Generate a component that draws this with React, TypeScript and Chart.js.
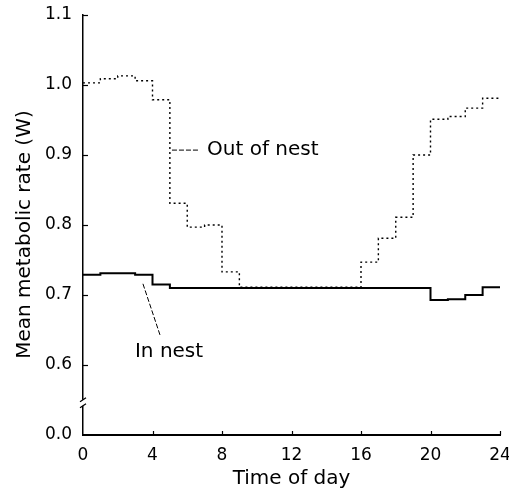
import React, { useEffect, useRef } from 'react';
import { Chart, registerables } from 'chart.js';

Chart.register(...registerables);

// Hour boundaries (time of day)
const hours = [0, 1, 2, 3, 4, 5, 6, 7, 8, 9, 10, 11, 12, 13, 14, 15, 16, 17, 18, 19, 20, 21, 22, 23, 24];

// Mean metabolic rate (W) for each hour 0..23
const outOfNestRate = [
  1.003, 1.009, 1.013, 1.006, 0.979, 0.831, 0.797, 0.8, 0.733, 0.711, 0.711, 0.711,
  0.711, 0.711, 0.711, 0.711, 0.747, 0.781, 0.811, 0.9, 0.951, 0.955, 0.967, 0.981,
];
const inNestRate = [
  0.729, 0.731, 0.731, 0.729, 0.715, 0.71, 0.71, 0.71, 0.71, 0.71, 0.71, 0.71,
  0.71, 0.71, 0.71, 0.71, 0.71, 0.71, 0.71, 0.71, 0.693, 0.694, 0.7, 0.711,
];

const xTickValues = [0, 4, 8, 12, 16, 20, 24];
const yTickValues = [0.5, 0.6, 0.7, 0.8, 0.9, 1.0, 1.1];
const yTickLabels = ['0.0', '0.6', '0.7', '0.8', '0.9', '1.0', '1.1'];

const xTitle = 'Time of day';
const yTitle = 'Mean metabolic rate (W)';
const outLabel = 'Out of nest';
const inLabel = 'In nest';

const FONT = '"DejaVu Sans", sans-serif';

function toSteps(values: number[]) {
  return hours.map((h, i) => ({ x: h, y: values[Math.min(i, values.length - 1)] }));
}

const decorPlugin = {
  id: 'decor',
  afterDraw(chart: any) {
    const { ctx } = chart;
    const x = chart.scales.x;
    const y = chart.scales.y;
    const left = x.left;
    ctx.save();
    ctx.strokeStyle = '#000';
    ctx.fillStyle = '#000';
    ctx.lineWidth = 1.2;
    // inward y ticks
    yTickValues.forEach((v, i) => {
      if (i === 0) return;
      const py = Math.round(y.getPixelForValue(v)) + 0.5;
      ctx.beginPath();
      ctx.moveTo(left, py);
      ctx.lineTo(left + 5, py);
      ctx.stroke();
    });
    // inward x ticks
    xTickValues.forEach((v, i) => {
      if (i === 0) return;
      const px = Math.round(x.getPixelForValue(v)) + 0.5;
      ctx.beginPath();
      ctx.moveTo(px, y.bottom);
      ctx.lineTo(px, y.bottom - 4);
      ctx.stroke();
    });
    // axis break
    const by = y.getPixelForValue(0.546);
    ctx.fillStyle = '#fff';
    ctx.fillRect(left - 4, by - 3, 8, 6);
    ctx.fillStyle = '#000';
    ctx.lineWidth = 1.3;
    ctx.beginPath();
    ctx.moveTo(left - 3, by - 1);
    ctx.lineTo(left + 3, by - 5);
    ctx.moveTo(left - 3, by + 5);
    ctx.lineTo(left + 3, by + 1);
    ctx.stroke();

    // annotations
    ctx.font = `20px ${FONT}`;
    ctx.textBaseline = 'middle';
    ctx.textAlign = 'left';
    ctx.fillText(outLabel, x.getPixelForValue(7.14), y.getPixelForValue(0.907));
    ctx.fillText(inLabel, x.getPixelForValue(2.99), y.getPixelForValue(0.619));

    ctx.lineWidth = 1;
    ctx.setLineDash([5, 2]);
    ctx.beginPath();
    ctx.moveTo(x.getPixelForValue(5.12), y.getPixelForValue(0.907));
    ctx.lineTo(x.getPixelForValue(6.73), y.getPixelForValue(0.907));
    ctx.stroke();
    ctx.beginPath();
    ctx.moveTo(x.getPixelForValue(3.45), y.getPixelForValue(0.716));
    ctx.lineTo(x.getPixelForValue(4.43), y.getPixelForValue(0.643));
    ctx.stroke();
    ctx.restore();
  },
};

export default function App() {
  const ref = useRef<HTMLCanvasElement | null>(null);

  useEffect(() => {
    if (!ref.current) return;
    const chart = new Chart(ref.current, {
      type: 'line',
      data: {
        datasets: [
          {
            label: outLabel,
            data: toSteps(outOfNestRate),
            stepped: true,
            borderColor: '#000',
            borderWidth: 1.4,
            borderDash: [2, 3],
            pointRadius: 0,
            fill: false,
          },
          {
            label: inLabel,
            data: toSteps(inNestRate),
            stepped: true,
            borderColor: '#000',
            borderWidth: 2,
            pointRadius: 0,
            fill: false,
          },
        ],
      },
      options: {
        animation: false,
        responsive: false,
        devicePixelRatio: 1,
        layout: { padding: { top: 15, right: 9, left: 0, bottom: 0 } },
        plugins: { legend: { display: false }, tooltip: { enabled: false } },
        scales: {
          x: {
            type: 'linear',
            min: 0,
            max: 24,
            afterBuildTicks: (scale: any) => {
              scale.ticks = xTickValues.map((v) => ({ value: v }));
            },
            afterFit: (scale: any) => {
              scale.height = 59;
              scale.paddingLeft = 0;
              scale.paddingRight = 0;
            },
            grid: { display: false, drawTicks: false },
            border: { display: true, color: '#000', width: 2 },
            ticks: {
              color: '#000',
              font: { family: FONT, size: 17 },
              padding: 10,
              maxRotation: 0,
              callback: (v: any) => String(v),
            },
            title: {
              display: true,
              text: xTitle,
              color: '#000',
              font: { family: FONT, size: 20 },
              padding: { top: 0, bottom: 3 },
            },
          },
          y: {
            type: 'linear',
            min: 0.5,
            max: 1.1,
            afterBuildTicks: (scale: any) => {
              scale.ticks = yTickValues.map((v) => ({ value: v }));
            },
            afterFit: (scale: any) => {
              scale.width = 83;
              scale.paddingTop = 0;
              scale.paddingBottom = 0;
            },
            grid: { display: false, drawTicks: false },
            border: { display: true, color: '#000', width: 1.5 },
            ticks: {
              color: '#000',
              font: { family: FONT, size: 17 },
              padding: 11,
              callback: (v: any) => {
                const i = yTickValues.findIndex((t) => Math.abs(t - Number(v)) < 1e-6);
                return i >= 0 ? yTickLabels[i] : '';
              },
            },
            title: {
              display: true,
              text: yTitle + '   ',
              color: '#000',
              font: { family: FONT, size: 20 },
              padding: { top: 13, bottom: 0 },
            },
          },
        },
      },
      plugins: [decorPlugin],
    });
    return () => chart.destroy();
  }, []);

  return (
    <div style={{ position: 'absolute', left: 0, top: 0, width: 509, height: 494, background: '#fff' }}>
      <canvas ref={ref} width={509} height={494} style={{ display: 'block' }} />
    </div>
  );
}
